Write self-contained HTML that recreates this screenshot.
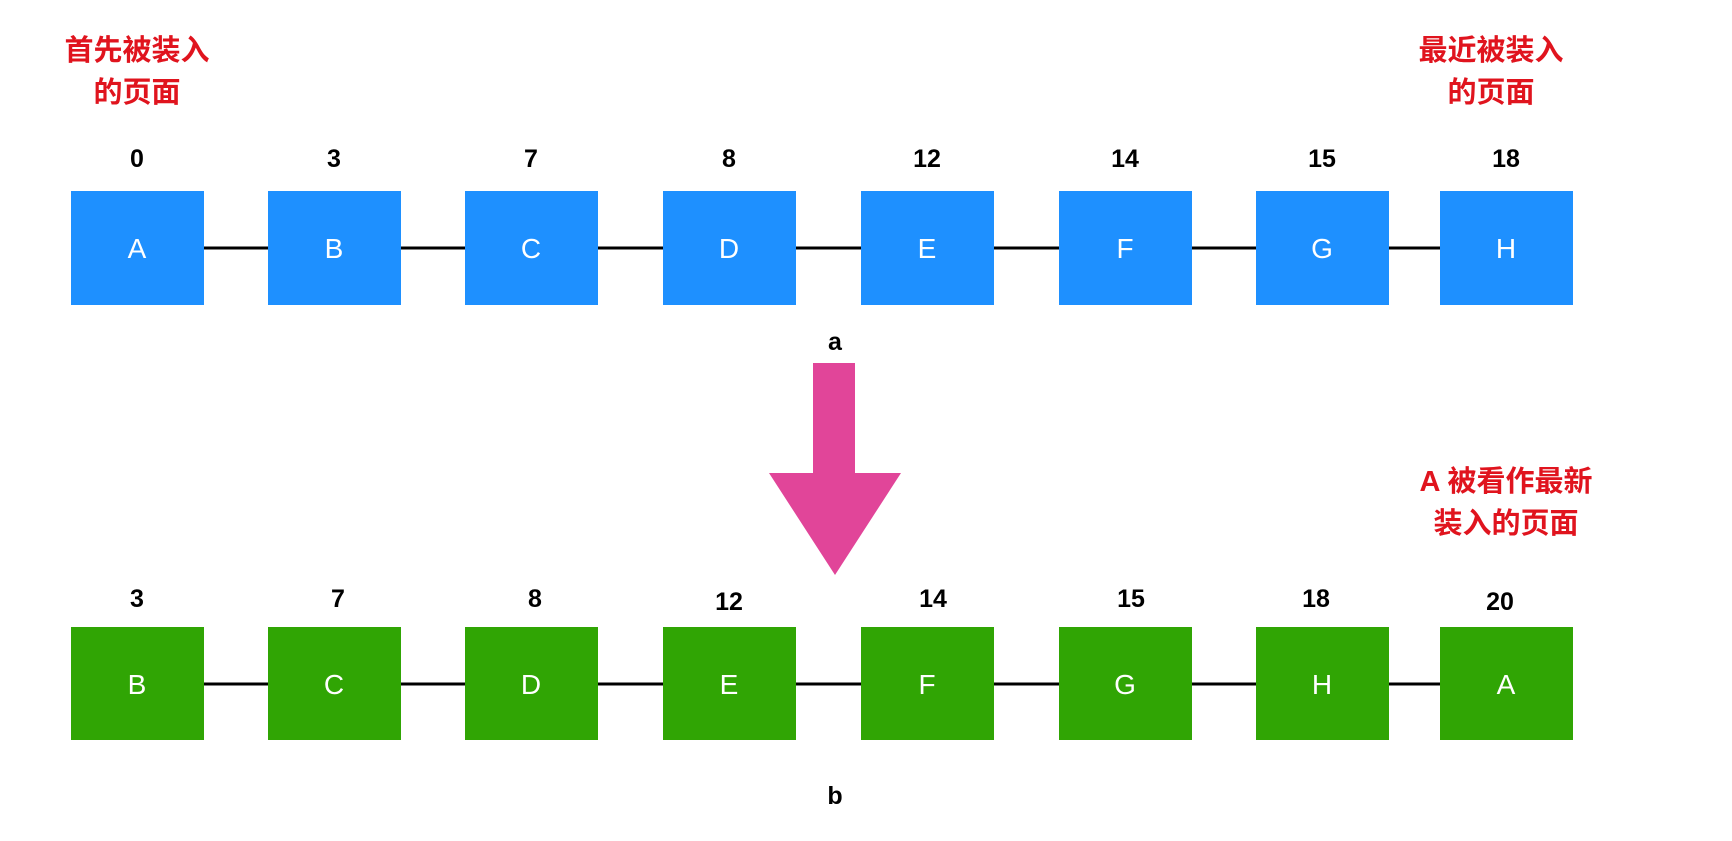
<!DOCTYPE html>
<html><head><meta charset="utf-8"><style>
body{margin:0;background:#fff;}
svg text{font-family:"Liberation Sans","Noto Sans CJK SC",sans-serif;}
</style></head><body>
<svg width="1732" height="836" viewBox="0 0 1732 836" xmlns="http://www.w3.org/2000/svg">
<rect width="1732" height="836" fill="#fff"/>
<g stroke="#000" stroke-width="3">
<line x1="200" y1="248" x2="1445" y2="248"/>
<line x1="200" y1="684" x2="1445" y2="684"/>
</g>
<g fill="#1E90FF">
<rect x="71" y="191" width="133" height="114"/><rect x="268" y="191" width="133" height="114"/>
<rect x="465" y="191" width="133" height="114"/><rect x="663" y="191" width="133" height="114"/>
<rect x="861" y="191" width="133" height="114"/><rect x="1059" y="191" width="133" height="114"/>
<rect x="1256" y="191" width="133" height="114"/><rect x="1440" y="191" width="133" height="114"/>
</g>
<g fill="#30A504">
<rect x="71" y="627" width="133" height="113"/><rect x="268" y="627" width="133" height="113"/>
<rect x="465" y="627" width="133" height="113"/><rect x="663" y="627" width="133" height="113"/>
<rect x="861" y="627" width="133" height="113"/><rect x="1059" y="627" width="133" height="113"/>
<rect x="1256" y="627" width="133" height="113"/><rect x="1440" y="627" width="133" height="113"/>
</g>
<g fill="#fff" font-size="28" text-anchor="middle">
<text x="137" y="258">A</text><text x="334" y="258">B</text><text x="531" y="258">C</text><text x="729" y="258">D</text>
<text x="927" y="258">E</text><text x="1125" y="258">F</text><text x="1322" y="258">G</text><text x="1506" y="258">H</text>
<text x="137" y="694">B</text><text x="334" y="694">C</text><text x="531" y="694">D</text><text x="729" y="694">E</text>
<text x="927" y="694">F</text><text x="1125" y="694">G</text><text x="1322" y="694">H</text><text x="1506" y="694">A</text>
</g>
<g fill="#000" font-size="25" font-weight="bold" text-anchor="middle">
<text x="137" y="167">0</text><text x="334" y="167">3</text><text x="531" y="167">7</text><text x="729" y="167">8</text>
<text x="927" y="167">12</text><text x="1125" y="167">14</text><text x="1322" y="167">15</text><text x="1506" y="167">18</text>
<text x="137" y="607">3</text><text x="338" y="607">7</text><text x="535" y="607">8</text><text x="729" y="610">12</text>
<text x="933" y="607">14</text><text x="1131" y="607">15</text><text x="1316" y="607">18</text><text x="1500" y="610">20</text>
<text x="835" y="350">a</text><text x="835" y="804">b</text>
</g>
<g fill="#E0141E" font-size="29" font-weight="bold" text-anchor="middle">
<text x="137" y="60">首先被装入</text><text x="137" y="102">的页面</text>
<text x="1491" y="60">最近被装入</text><text x="1491" y="102">的页面</text>
<text x="1506" y="491">A 被看作最新</text><text x="1506" y="533">装入的页面</text>
</g>
<polygon points="813,363 855,363 855,473 901,473 835,575 769,473 813,473" fill="#E14599"/>
</svg>
</body></html>
